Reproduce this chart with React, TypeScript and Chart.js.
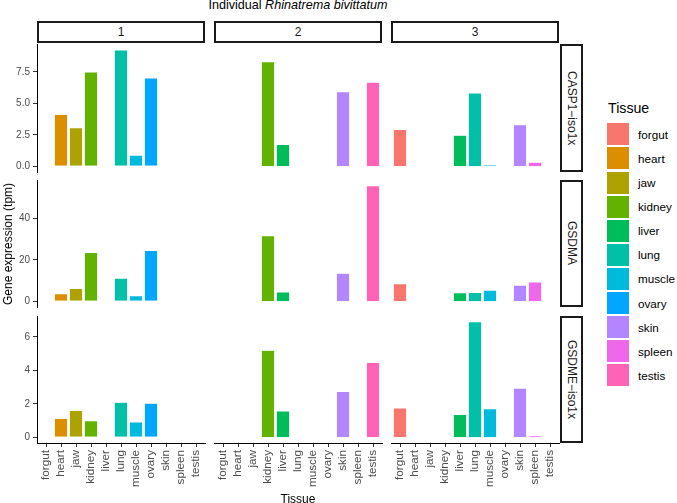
import React, { useEffect, useRef } from "react";
import { Chart, registerables } from "chart.js";

Chart.register(...registerables);
Chart.defaults.font.family = "'Liberation Sans', Arial, sans-serif";

// ---------- data ----------
const tissues = ["forgut", "heart", "jaw", "kidney", "liver", "lung", "muscle", "ovary", "skin", "spleen", "testis"];
const tissueColors = ["#F8766D", "#DB8E00", "#AEA200", "#64B200", "#00BD5C", "#00C1A7", "#00BADE", "#00A6FF", "#B385FF", "#EF67EB", "#FF63B6"];
const individuals = ["1", "2", "3"];
const genes = ["CASP1\u2212iso1x", "GSDMA", "GSDME\u2212iso1x"];

//                 forgut heart  jaw   kidney liver lung  muscle ovary skin  spleen testis
const casp1Ind1 = [null, 4.12, 3.06, 7.5, null, 9.26, 0.88, 7.02, null, null, null];
const casp1Ind2 = [null, null, null, 8.32, 1.73, null, null, null, 5.93, null, 6.68];
const casp1Ind3 = [2.93, null, null, null, 2.47, 5.83, 0.1, null, 3.3, 0.32, null];

const gsdmaInd1 = [null, 3.7, 6.2, 23.7, null, 11.2, 2.7, 24.6, null, null, null];
const gsdmaInd2 = [null, null, null, 31.8, 4.5, null, null, null, 13.6, null, 55.9];
const gsdmaInd3 = [8.5, null, null, null, 4.2, 4.3, 5.4, null, 7.8, 9.4, null];

const gsdmeInd1 = [null, 1.13, 1.61, 0.99, null, 2.09, 0.91, 2.03, null, null, null];
const gsdmeInd2 = [null, null, null, 5.2, 1.57, null, null, null, 2.74, null, 4.47];
const gsdmeInd3 = [1.75, null, null, null, 1.37, 6.9, 1.71, null, 2.94, 0.1, null];

const casp1Ticks = [0, 2.5, 5, 7.5];
const gsdmaTicks = [0, 20, 40];
const gsdmeTicks = [0, 2, 4, 6];

const values: (number | null)[][][] = [
  [casp1Ind1, casp1Ind2, casp1Ind3],
  [gsdmaInd1, gsdmaInd2, gsdmaInd3],
  [gsdmeInd1, gsdmeInd2, gsdmeInd3],
];
const rowTicks = [casp1Ticks, gsdmaTicks, gsdmeTicks];
const rowDecimals = [1, 0, 0];

// ---------- layout ----------
const W = 677;
const H = 503;
const colLeft = [37, 214, 391];
const panelW = 168;
const rowTop = [44, 180, 316];
const rowH = [128, 127, 127];
const M = 8;
const yAxisW = 37;
const FONT = "'Liberation Sans', Arial, sans-serif";

function rowRange(r: number) {
  let mx = 0;
  values[r].forEach((arr) => arr.forEach((v) => { if (v != null && v > mx) mx = v; }));
  return { min: -0.05 * mx, max: 1.05 * mx };
}

function Panel({ row, col }: { row: number; col: number }) {
  const ref = useRef<HTMLCanvasElement | null>(null);
  const left = col === 0 ? 0 : colLeft[col] - M;
  const right = colLeft[col] + panelW + M;
  const top = rowTop[row] - M;
  const bottom = row === 2 ? H : rowTop[row] + rowH[row] + M;
  const cw = right - left;
  const ch = bottom - top;

  useEffect(() => {
    if (!ref.current) return;
    const { min, max } = rowRange(row);
    const data = values[row][col].map((v, i) => ({ x: i + 1, y: v }));
    const chart = new Chart(ref.current, {
      type: "bar",
      data: {
        datasets: [
          {
            data: data as any,
            backgroundColor: tissueColors,
            borderColor: "rgba(255,255,255,0.45)",
            borderWidth: 0.6,
            barPercentage: 0.9,
            categoryPercentage: 1,
          },
        ],
      },
      options: {
        animation: false,
        responsive: false,
        maintainAspectRatio: false,
        devicePixelRatio: 1,
        events: [],
        layout: {
          padding: {
            left: col === 0 ? 0 : M,
            right: M,
            top: M,
            bottom: row === 2 ? 0 : M,
          },
        },
        plugins: { legend: { display: false }, tooltip: { enabled: false }, title: { display: false } },
        scales: {
          x: {
            type: "linear",
            min: 0.4,
            max: 11.6,
            offset: false,
            display: row === 2,
            grid: {
              display: true,
              drawOnChartArea: false,
              drawTicks: true,
              tickLength: 4,
              color: "#333333",
              offset: false,
              lineWidth: 1,
            },
            border: { display: true, color: "#000000", width: 1 },
            afterBuildTicks: (s: any) => {
              s.ticks = tissues.map((_, i) => ({ value: i + 1 }));
            },
            ticks: {
              autoSkip: false,
              minRotation: 90,
              maxRotation: 90,
              padding: 3,
              color: "#4D4D4D",
              font: { size: 11.7, family: FONT },
              callback: (_v: any, i: number) => tissues[i],
            },
            afterFit: (s: any) => {
              s.height = row === 2 ? H - (rowTop[2] + rowH[2]) : 0;
              s.paddingLeft = 0;
              s.paddingRight = 0;
            },
          } as any,
          y: {
            type: "linear",
            min,
            max,
            display: col === 0,
            grid: {
              display: true,
              drawOnChartArea: false,
              drawTicks: true,
              tickLength: 4,
              color: "#333333",
              lineWidth: 1,
            },
            border: { display: true, color: "#000000", width: 1 },
            afterBuildTicks: (s: any) => {
              s.ticks = rowTicks[row].map((v) => ({ value: v }));
            },
            ticks: {
              autoSkip: false,
              padding: 3,
              color: "#4D4D4D",
              font: { size: 10, family: FONT },
              callback: (v: any) => Number(v).toFixed(rowDecimals[row]),
            },
            afterFit: (s: any) => {
              s.width = col === 0 ? yAxisW : 0;
              s.paddingTop = 0;
              s.paddingBottom = 0;
            },
          } as any,
        },
      },
    });
    return () => chart.destroy();
  }, [row, col]);

  return (
    <canvas
      ref={ref}
      width={cw}
      height={ch}
      style={{ position: "absolute", left, top, width: cw, height: ch, display: "block" }}
    />
  );
}

export default function App() {
  const panels: JSX.Element[] = [];
  for (let r = 0; r < 3; r++) for (let c = 0; c < 3; c++) panels.push(<Panel key={`${r}-${c}`} row={r} col={c} />);

  return (
    <div
      style={{
        position: "absolute",
        left: 0,
        top: 0,
        width: W,
        height: H,
        background: "#ffffff",
        overflow: "hidden",
        fontFamily: FONT,
      }}
    >
      {/* title */}
      <div
        style={{
          position: "absolute",
          left: colLeft[0],
          width: colLeft[2] + panelW - colLeft[0],
          top: -1.4,
          textAlign: "center",
          fontSize: 12.6,
          lineHeight: 1,
          color: "#000",
          whiteSpace: "nowrap",
        }}
      >
        Individual <i>Rhinatrema bivittatum</i>
      </div>

      {/* top strips */}
      {individuals.map((ind, c) => (
        <div
          key={ind}
          style={{
            position: "absolute",
            left: colLeft[c],
            top: 21,
            width: panelW,
            height: 22,
            boxSizing: "border-box",
            border: "2px solid #1a1a1a",
            background: "#fff",
            display: "flex",
            alignItems: "center",
            justifyContent: "center",
            fontSize: 12,
            color: "#1A1A1A",
          }}
        >
          {ind}
        </div>
      ))}

      {/* right strips */}
      {genes.map((g, r) => (
        <div
          key={g}
          style={{
            position: "absolute",
            left: 560,
            top: rowTop[r],
            width: 23,
            height: rowH[r],
            boxSizing: "border-box",
            border: "2px solid #1a1a1a",
            background: "#fff",
            display: "flex",
            alignItems: "center",
            justifyContent: "center",
            fontSize: 12,
            color: "#1A1A1A",
          }}
        >
          <span style={{ writingMode: "vertical-rl", whiteSpace: "nowrap", lineHeight: 1 }}>{g}</span>
        </div>
      ))}

      {panels}

      {/* y axis title */}
      <div
        style={{
          position: "absolute",
          left: 7.5,
          top: 243.5,
          transform: "translate(-50%, -50%) rotate(-90deg)",
          fontSize: 12,
          lineHeight: 1,
          whiteSpace: "nowrap",
          color: "#000",
        }}
      >
        Gene expression (tpm)
      </div>

      {/* x axis title */}
      <div
        style={{
          position: "absolute",
          left: colLeft[0],
          width: colLeft[2] + panelW - colLeft[0],
          top: 492.5,
          textAlign: "center",
          fontSize: 12,
          lineHeight: 1,
          color: "#000",
        }}
      >
        Tissue
      </div>

      {/* legend */}
      <div style={{ position: "absolute", left: 608, top: 101.3, fontSize: 14.2, lineHeight: 1, color: "#000" }}>
        Tissue
      </div>
      {tissues.map((t, i) => (
        <React.Fragment key={t}>
          <div
            style={{
              position: "absolute",
              left: 607,
              top: 123.3 + i * 24.1,
              width: 22,
              height: 22,
              background: tissueColors[i],
            }}
          />
          <div
            style={{
              position: "absolute",
              left: 638,
              top: 123.3 + i * 24.1,
              height: 22,
              display: "flex",
              alignItems: "center",
              fontSize: 11.7,
              color: "#000",
              whiteSpace: "nowrap",
            }}
          >
            {t}
          </div>
        </React.Fragment>
      ))}
    </div>
  );
}
